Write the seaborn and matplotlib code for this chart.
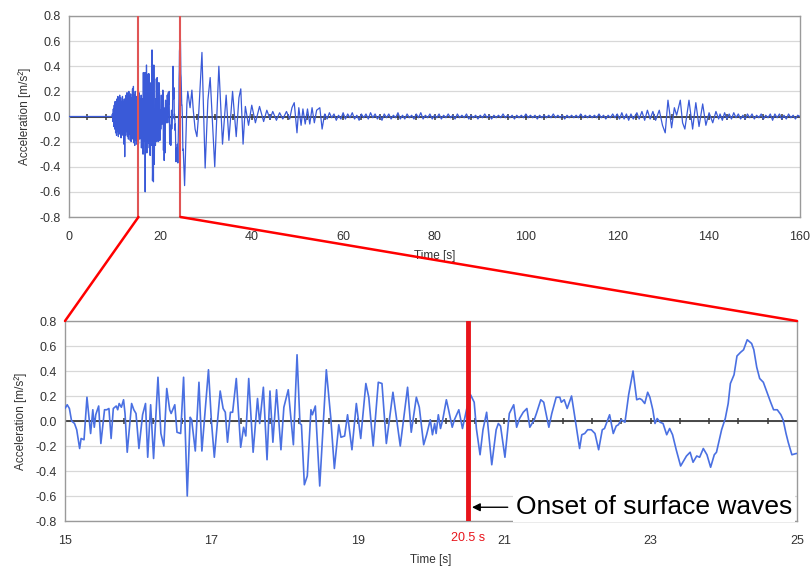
import numpy as np
import pandas as pd
import matplotlib
matplotlib.use("Agg")
import matplotlib.pyplot as plt
from matplotlib.patches import ConnectionPatch
import seaborn as sns

# ---- bottom panel: 15-25 s window, turning points ----
zoom_t = [15.00, 15.03, 15.06, 15.09, 15.13, 15.16, 15.20, 15.22, 15.26, 15.30,
          15.35, 15.38, 15.40, 15.42, 15.46, 15.49, 15.54, 15.57, 15.60, 15.63,
          15.66, 15.70, 15.72, 15.74, 15.77, 15.80, 15.82, 15.85, 15.91, 15.94,
          15.97, 16.01, 16.06, 16.10, 16.13, 16.17, 16.21, 16.27, 16.31, 16.35,
          16.39, 16.43, 16.45, 16.50, 16.53, 16.58, 16.62, 16.67, 16.71, 16.73,
          16.78, 16.83, 16.87, 16.96, 17.00, 17.04, 17.12, 17.16, 17.19, 17.22,
          17.26, 17.29, 17.34, 17.40, 17.44, 17.47, 17.51, 17.57, 17.63, 17.66,
          17.71, 17.76, 17.80, 17.84, 17.89, 17.95, 17.99, 18.05, 18.12, 18.17,
          18.21, 18.23, 18.27, 18.31, 18.36, 18.38, 18.42, 18.48, 18.57, 18.63,
          18.68, 18.74, 18.77, 18.82, 18.86, 18.92, 18.98, 19.04, 19.11, 19.15,
          19.21, 19.28, 19.33, 19.39, 19.48, 19.58, 19.68, 19.73, 19.80, 19.84,
          19.90, 19.94, 19.99, 20.02, 20.05, 20.07, 20.10, 20.13, 20.16, 20.21,
          20.24, 20.29, 20.32, 20.38, 20.43, 20.50, 20.54, 20.59, 20.62, 20.67,
          20.71, 20.76, 20.83, 20.89, 20.92, 20.95, 21.01, 21.07, 21.13, 21.17,
          21.21, 21.26, 21.31, 21.35, 21.41, 21.44, 21.50, 21.54, 21.61, 21.65,
          21.71, 21.76, 21.78, 21.82, 21.86, 21.92, 21.96, 22.03, 22.06, 22.10,
          22.14, 22.19, 22.24, 22.29, 22.34, 22.37, 22.44, 22.49, 22.53, 22.56,
          22.60, 22.65, 22.70, 22.76, 22.81, 22.85, 22.88, 22.92, 22.96, 22.99,
          23.03, 23.06, 23.09, 23.13, 23.17, 23.22, 23.26, 23.30, 23.35, 23.41,
          23.46, 23.49, 23.54, 23.58, 23.63, 23.67, 23.72, 23.77, 23.82, 23.87,
          23.90, 23.97, 24.02, 24.06, 24.09, 24.14, 24.18, 24.23, 24.27, 24.32,
          24.38, 24.41, 24.45, 24.49, 24.54, 24.59, 24.64, 24.68, 24.73, 24.78,
          24.81, 24.85, 24.88, 24.93, 24.99, 25.00]
zoom_a = [0.10, 0.13, 0.10, 0.00, -0.02, -0.07, -0.22, -0.14, -0.15, 0.19,
          -0.10, 0.09, -0.05, 0.05, 0.12, -0.18, 0.09, 0.09, 0.10, -0.14,
          0.10, 0.12, 0.09, 0.14, 0.11, 0.17, 0.06, -0.25, 0.14, 0.09,
          0.06, -0.22, 0.05, 0.14, -0.29, 0.13, -0.30, 0.35, -0.10, -0.20,
          0.26, 0.09, 0.06, 0.13, -0.09, -0.10, 0.35, -0.60, 0.03, 0.01,
          -0.24, 0.31, -0.24, 0.41, 0.00, -0.29, 0.24, 0.10, 0.07, -0.17,
          0.07, 0.07, 0.34, -0.21, -0.05, -0.12, 0.34, -0.25, 0.18, -0.02,
          0.27, -0.31, 0.24, -0.17, 0.25, -0.23, 0.11, 0.25, -0.19, 0.53,
          -0.02, -0.03, -0.51, -0.44, 0.09, 0.05, 0.12, -0.52, 0.41, 0.03,
          -0.38, -0.03, -0.13, -0.12, 0.05, -0.23, 0.14, -0.14, 0.30, 0.19,
          -0.20, 0.31, 0.30, -0.18, 0.23, -0.20, 0.27, -0.09, 0.19, 0.11,
          -0.19, -0.11, 0.01, -0.11, -0.02, -0.10, 0.05, -0.06, 0.01, 0.17,
          0.09, -0.05, 0.01, 0.09, -0.06, 0.13, 0.21, 0.15, -0.06, -0.27,
          -0.07, 0.07, -0.35, -0.07, -0.02, -0.04, -0.29, 0.06, 0.13, -0.05,
          0.02, 0.07, 0.10, -0.05, 0.01, 0.06, 0.17, 0.15, -0.05, 0.06,
          0.19, 0.19, 0.15, 0.17, 0.10, 0.20, 0.05, -0.22, -0.11, -0.10,
          -0.07, -0.07, -0.10, -0.23, -0.07, -0.06, 0.05, -0.10, -0.04, -0.03,
          0.01, -0.01, 0.21, 0.40, 0.17, 0.18, 0.17, 0.14, 0.23, 0.19,
          0.09, -0.02, 0.02, -0.01, -0.02, -0.11, -0.06, -0.11, -0.23, -0.36,
          -0.31, -0.28, -0.25, -0.33, -0.28, -0.29, -0.22, -0.27, -0.37, -0.27,
          -0.25, -0.07, 0.02, 0.14, 0.30, 0.37, 0.52, 0.55, 0.57, 0.65,
          0.62, 0.57, 0.43, 0.34, 0.31, 0.23, 0.15, 0.09, 0.09, 0.05,
          0.01, -0.10, -0.17, -0.27, -0.26, -0.26]

# ---- top panel pieces ----
quiet_t = [0.0, 9.4]
quiet_a = [0.0, 0.0]

# P-wave onset, sampled every 0.1 s from 9.5 s
blob_start, blob_step = 9.5, 0.1
blob_a = [0.02, -0.04, 0.06, -0.08, 0.09, -0.10, 0.12, -0.13, 0.10, -0.15,
          0.14, -0.12, 0.16, -0.16, 0.13, -0.14, 0.17, -0.12, 0.15, -0.17,
          0.12, -0.15, 0.16, -0.14, 0.12, -0.22, 0.14, -0.32, 0.13, -0.15,
          0.17, -0.12, 0.19, -0.16, 0.14, -0.18, 0.20, -0.14, 0.16, -0.19,
          0.18, -0.20, 0.15, -0.17, 0.22, -0.18, 0.24, -0.21, 0.17, -0.23,
          0.20, -0.19, 0.16, -0.22, 0.12]

coda_t = [25.3, 25.8, 26.0, 26.5, 26.9, 27.2, 27.6, 28.0, 28.4, 29.1,
          29.8, 30.4, 30.9, 31.9, 32.8, 33.6, 34.4, 35.0, 35.8, 36.6,
          37.2, 37.6, 38.1, 38.6, 39.3, 40.0, 40.8, 41.7, 42.6, 43.3,
          44.0, 44.6, 45.4, 46.1, 46.8, 47.6, 48.3, 48.8, 49.3, 49.9,
          50.3, 50.8, 51.2, 51.7, 52.2, 52.7, 53.2, 53.7, 54.2, 54.9,
          55.4, 55.9]
coda_a = [-0.55, 0.10, 0.20, 0.07, 0.21, 0.05, -0.10, -0.16, 0.03, 0.51,
          -0.41, 0.13, 0.31, -0.40, 0.40, -0.22, 0.17, -0.19, 0.20, -0.16,
          0.15, 0.22, -0.22, 0.08, -0.07, 0.09, -0.05, 0.08, -0.04, 0.05,
          -0.02, 0.04, -0.03, 0.03, -0.02, 0.04, -0.02, 0.07, 0.11, -0.13,
          0.07, -0.07, 0.06, -0.06, 0.06, -0.06, 0.07, -0.05, 0.05, 0.07,
          -0.10, 0.01]

# background noise, every 0.5 s
noise1_start, noise_step = 56.0, 0.5
noise1_a = [0.02, -0.02, 0.03, -0.01, 0.02, -0.03, 0.01, -0.02, 0.03, -0.02, 0.02, -0.01, 0.03, -0.02, 0.01, -0.03, 0.02,
            -0.01, 0.02, -0.02, 0.03, -0.01, 0.02, -0.02, 0.01, -0.03, 0.02, -0.01, 0.02, -0.02, 0.01, -0.01, 0.03, -0.02,
            0.01, -0.02, 0.02, -0.01, 0.01, -0.02, 0.02, -0.01, 0.03, -0.02, 0.01, -0.01, 0.02, -0.02, 0.01, -0.01, 0.02,
            -0.02, 0.01, -0.01, 0.02, -0.01, 0.01, -0.02, 0.02, -0.01, 0.01, -0.01, 0.02, -0.02, 0.01, -0.01, 0.01, -0.02,
            0.01, -0.01, 0.02, -0.01, 0.01, -0.02, 0.01, -0.01, 0.01, -0.01, 0.02, -0.01, 0.01, -0.01, 0.01, -0.02, 0.01,
            -0.01, 0.01, -0.01, 0.02, -0.01, 0.01, -0.01, 0.01, -0.02, 0.01, -0.01, 0.01, -0.01, 0.01, -0.01, 0.02, -0.01,
            0.01, -0.01, 0.01, -0.02, 0.01, -0.01, 0.01, -0.01, 0.01, -0.01, 0.02, -0.01, 0.01, -0.01, 0.01, -0.01, 0.01,
            -0.01, 0.02, -0.01, 0.01, -0.02, 0.01, -0.01, 0.02, -0.01, 0.02, -0.02, 0.03, -0.02, 0.02, -0.03, 0.02, -0.02]

# late surface-wave packet around 130-140 s
packet_t = [124.3, 124.8, 125.4, 126.0, 126.6, 127.2, 127.8, 128.4, 129.2, 129.9,
            130.5, 131.1, 131.9, 132.5, 133.0, 133.8, 134.3, 134.8, 135.7, 136.5,
            137.2, 137.9, 138.7, 139.4, 140.1, 140.9, 141.6, 142.2]
packet_a = [0.03, -0.02, 0.04, -0.03, 0.05, -0.02, 0.04, -0.03, 0.05, -0.07,
            -0.13, 0.13, -0.09, 0.07, 0.01, 0.13, -0.05, -0.10, 0.13, -0.10,
            0.11, -0.08, 0.10, -0.07, 0.03, -0.05, 0.04, -0.02]

noise2_start = 142.5
noise2_a = [0.02, -0.03, 0.03, -0.02, 0.02, -0.02, 0.03, -0.01, 0.02, -0.02, 0.01, -0.02, 0.02, -0.01, 0.02, -0.02, 0.01, -0.01,
            0.02, -0.02, 0.01, -0.01, 0.02, -0.03, 0.02, -0.01, 0.02, -0.02, 0.01, -0.02, 0.02, -0.01, 0.01, -0.02, 0.01, 0.00]

y_ticks = [-0.8, -0.6, -0.4, -0.2, 0.0, 0.2, 0.4, 0.6, 0.8]
y_labels = ["-0.8", "-0.6", "-0.4", "-0.2", "0.0", "0.2", "0.4", "0.6", "0.8"]
onset = 20.5

# assemble the full record
blob_t = blob_start + blob_step * np.arange(len(blob_a))
noise1_t = noise1_start + noise_step * np.arange(len(noise1_a))
noise2_t = noise2_start + noise_step * np.arange(len(noise2_a))
full = pd.DataFrame({
    "t": np.concatenate([quiet_t, blob_t, zoom_t, coda_t, noise1_t, packet_t, noise2_t]),
    "a": np.concatenate([quiet_a, blob_a, zoom_a, coda_a, noise1_a, packet_a, noise2_a]),
})
win = pd.DataFrame({"t": zoom_t, "a": zoom_a})

sns.set_style("white")
plt.rcParams["font.family"] = ["Liberation Sans", "DejaVu Sans"]

fig = plt.figure(figsize=(8.11, 5.68), dpi=100)
ax1 = fig.add_axes([69 / 811, 1 - 217 / 568, 731 / 811, 201 / 568])
ax2 = fig.add_axes([65 / 811, 1 - 521 / 568, 732 / 811, 200 / 568])

sns.lineplot(data=full, x="t", y="a", ax=ax1, color="#3a5ad8", lw=0.9,
             estimator=None, sort=False, zorder=3)
sns.lineplot(data=win, x="t", y="a", ax=ax2, color="#4a70e2", lw=1.2,
             estimator=None, sort=False, zorder=3, solid_joinstyle="round")

for ax, xlim, xt, zt in [(ax1, (0, 160), np.arange(0, 161, 20), np.arange(4, 160, 4)),
                         (ax2, (15, 25), np.arange(15, 26, 2), np.arange(15.4, 24.9, 0.4))]:
    ax.set_xlim(*xlim)
    ax.set_ylim(-0.8, 0.8)
    ax.set_xticks(xt)
    ax.set_yticks(y_ticks)
    ax.set_yticklabels(y_labels)
    ax.yaxis.grid(True, color="#d8d8d8", lw=0.9)
    ax.set_axisbelow(True)
    for s in ax.spines.values():
        s.set_color("#9a9a9a")
        s.set_linewidth(1.0)
    ax.tick_params(length=0, labelsize=9, colors="#333333")
    ax.tick_params(axis="x", pad=10)
    ax.tick_params(axis="y", pad=6)
    ax.axhline(0, color="#3a3a3a", lw=1.3, zorder=2)
    ax.plot(zt, np.zeros(len(zt)), ls="none", marker="|", ms=5, mew=1.1,
            color="#3a3a3a", zorder=2)
    ax.set_xlabel("Time [s]", fontsize=8.5, color="#333333", labelpad=5)
    ax.set_ylabel("Acceleration [m/s²]", fontsize=8.5, color="#333333", labelpad=6)

# zoom window markers and connectors
for x in (15.2, 24.4):
    ax1.axvline(x, color="#e05555", lw=1.5, zorder=4)
for xa, xb in ((15.2, 15), (24.4, 25)):
    con = ConnectionPatch(xyA=(xa, -0.8), coordsA=ax1.transData,
                          xyB=(xb, 0.8), coordsB=ax2.transData,
                          color="red", lw=1.8, zorder=5)
    fig.add_artist(con)

# onset annotation
ax2.axvline(onset, color="#e8141b", lw=3.5, zorder=4)
ax2.annotate(f"{onset} s", xy=(onset, 0), xycoords=("data", "axes fraction"),
             xytext=(0, -12), textcoords="offset points", ha="center", va="center",
             color="#e8141b", fontsize=9)
ax2.annotate("Onset of surface waves", xy=(onset + 0.06, -0.69), xytext=(21.16, -0.69),
             ha="left", va="center", fontsize=19, color="black", zorder=6,
             bbox=dict(boxstyle="square,pad=0.1", fc="white", ec="none"),
             arrowprops=dict(arrowstyle="-|>", color="black", lw=1.0,
                             mutation_scale=12, shrinkA=4, shrinkB=0))

fig.savefig("out.png", dpi=100, facecolor="white")
